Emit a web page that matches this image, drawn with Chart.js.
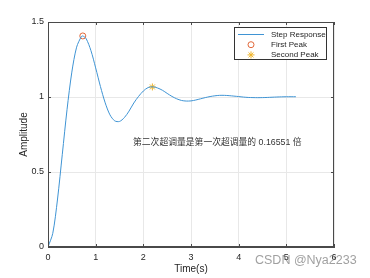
<!DOCTYPE html>
<html>
<head>
<meta charset="utf-8">
<script src="https://cdn.jsdelivr.net/npm/chart.js@4.4.0/dist/chart.umd.min.js"></script>
<style>
  html, body { margin: 0; padding: 0; background: #fff; }
  #wrap { width: 370px; height: 278px; }
</style>
</head>
<body>
<div id="wrap"><canvas id="chartStep"></canvas></div>
<script>
// step response
const times = [0, 0.1, 0.2, 0.3, 0.4, 0.5, 0.6, 0.7, 0.73, 0.8, 0.9, 1.0, 1.1, 1.2, 1.3, 1.4, 1.5, 1.6, 1.7, 1.8, 1.9,
  2.0, 2.1, 2.2, 2.3, 2.4, 2.5, 2.6, 2.7, 2.8, 2.9, 3.0, 3.1, 3.2, 3.3, 3.4, 3.5, 3.6, 3.7, 3.8, 3.9,
  4.0, 4.1, 4.2, 4.3, 4.4, 4.5, 4.6, 4.7, 4.8, 4.9, 5.0, 5.1, 5.2];
const amplitude = [0, 0.091, 0.320, 0.618, 0.918, 1.166, 1.332, 1.403, 1.407, 1.389, 1.310, 1.194, 1.070, 0.961, 0.881, 0.841, 0.837, 0.862, 0.906, 0.960, 1.004,
  1.040, 1.063, 1.068, 1.060, 1.045, 1.024, 1.004, 0.988, 0.977, 0.973, 0.974, 0.980, 0.988, 0.996, 1.003, 1.008, 1.011, 1.011, 1.009, 1.006,
  1.003, 0.9995, 0.997, 0.996, 0.9955, 0.996, 0.997, 0.9985, 0.9998, 1.001, 1.0016, 1.0018, 1.0017];
const firstPeak = [0.73, 1.407];
const secondPeak = [2.19, 1.067];
const xTicks = [0, 1, 2, 3, 4, 5, 6];
const yTicks = [0, 0.5, 1, 1.5];
const ratioText = '第二次超调量是第一次超调量的 0.16551 倍';

const axisColor = '#4a4a4a';
const textColor = '#262626';
const lineBlue = '#3f94d4';

const boxPlugin = {
  id: 'boxPlugin',
  afterDraw: chart => {
    const ctx = chart.ctx;
    const { left, right, top, bottom } = chart.chartArea;
    const xs = chart.scales.x, ys = chart.scales.y;
    ctx.save();
    // outer box + inward ticks
    ctx.strokeStyle = axisColor;
    ctx.lineWidth = 1;
    ctx.strokeRect(left + 0.5, top + 0.5, right - left - 1, bottom - top - 1);
    ctx.beginPath();
    xTicks.forEach(v => {
      const px = Math.round(xs.getPixelForValue(v)) + 0.5;
      ctx.moveTo(px, bottom); ctx.lineTo(px, bottom - 3);
      ctx.moveTo(px, top); ctx.lineTo(px, top + 3);
    });
    yTicks.forEach(v => {
      const py = Math.round(ys.getPixelForValue(v)) + 0.5;
      ctx.moveTo(left, py); ctx.lineTo(left + 3, py);
      ctx.moveTo(right, py); ctx.lineTo(right - 3, py);
    });
    ctx.stroke();

    // legend
    const lx = 234.5, ly = 27.5, lw = 92, lh = 32;
    ctx.fillStyle = '#fff';
    ctx.fillRect(lx, ly, lw, lh);
    ctx.strokeStyle = '#333';
    ctx.strokeRect(lx, ly, lw, lh);
    ctx.font = '8px "Liberation Sans", Arial, sans-serif';
    ctx.textBaseline = 'middle';
    ctx.textAlign = 'left';
    chart.data.datasets.forEach((ds, i) => {
      const cy = 34.5 + i * 10.2;
      ctx.strokeStyle = ds.borderColor;
      ctx.beginPath();
      if (i === 0) {
        ctx.moveTo(238, cy); ctx.lineTo(264, cy);
      } else if (ds.pointStyle === 'circle') {
        ctx.arc(251, cy, ds.pointRadius, 0, Math.PI * 2);
      } else {
        for (let k = 0; k < 4; k++) {
          const a = k * Math.PI / 4;
          ctx.moveTo(251 - Math.cos(a) * 3.5, cy - Math.sin(a) * 3.5);
          ctx.lineTo(251 + Math.cos(a) * 3.5, cy + Math.sin(a) * 3.5);
        }
      }
      ctx.stroke();
      ctx.fillStyle = textColor;
      ctx.fillText(ds.label, 271, cy);
    });

    // annotation
    ctx.font = '8.8px "Liberation Sans", "Noto Sans CJK SC", sans-serif';
    ctx.fillStyle = '#333';
    ctx.fillText(ratioText, 133, 143);

    // watermark
    ctx.font = '12.5px "Liberation Sans", Arial, sans-serif';
    ctx.fillStyle = 'rgba(120,120,120,0.7)';
    ctx.fillText('CSDN @Nya2233', 255, 261);
    ctx.restore();
  }
};

const tickFont = { family: '"Liberation Sans", Arial', size: 9 };

const chartStep = new Chart(document.getElementById('chartStep'), {
  type: 'line',
  plugins: [boxPlugin],
  data: {
    datasets: [{
      label: 'Step Response',
      data: times.map((t, i) => ({ x: t, y: amplitude[i] })),
      borderColor: lineBlue,
      borderWidth: 1,
      pointRadius: 0,
      tension: 0.3,
      fill: false
    }, {
      label: 'First Peak',
      data: [{ x: firstPeak[0], y: firstPeak[1] }],
      showLine: false,
      pointStyle: 'circle',
      pointRadius: 3,
      borderColor: '#e2683a',
      backgroundColor: 'rgba(0,0,0,0)',
      borderWidth: 1
    }, {
      label: 'Second Peak',
      data: [{ x: secondPeak[0], y: secondPeak[1] }],
      showLine: false,
      pointStyle: 'star',
      pointRadius: 3.5,
      borderColor: '#f0b429',
      backgroundColor: '#f0b429',
      borderWidth: 1
    }]
  },
  options: {
    responsive: true,
    maintainAspectRatio: false,
    animation: false,
    events: [],
    layout: { padding: { top: 22, right: 36, left: 0, bottom: 0 } },
    plugins: { legend: { display: false }, tooltip: { enabled: false } },
    scales: {
      x: {
        type: 'linear',
        min: 0, max: 6,
        afterBuildTicks: s => { s.ticks = xTicks.map(v => ({ value: v })); },
        afterFit: s => { s.height = 31; },
        grid: { color: '#e8e8e8', drawTicks: false },
        border: { color: axisColor },
        ticks: { color: textColor, padding: 5, font: tickFont, callback: v => String(v) },
        title: { display: true, text: 'Time(s)', color: textColor, padding: { top: 0, bottom: 3 },
          font: { family: '"Liberation Sans", Arial', size: 10 } }
      },
      y: {
        min: 0, max: 1.5,
        afterBuildTicks: s => { s.ticks = yTicks.map(v => ({ value: v })); },
        afterFit: s => { s.width = 48; },
        grid: { color: '#e8e8e8', drawTicks: false },
        border: { color: axisColor },
        ticks: { color: textColor, padding: 4, font: tickFont, callback: v => String(v) },
        title: { display: true, text: 'Amplitude', color: textColor, padding: { top: 18, bottom: 0 },
          font: { family: '"Liberation Sans", Arial', size: 10 } }
      }
    }
  }
});
</script>
</body>
</html>
